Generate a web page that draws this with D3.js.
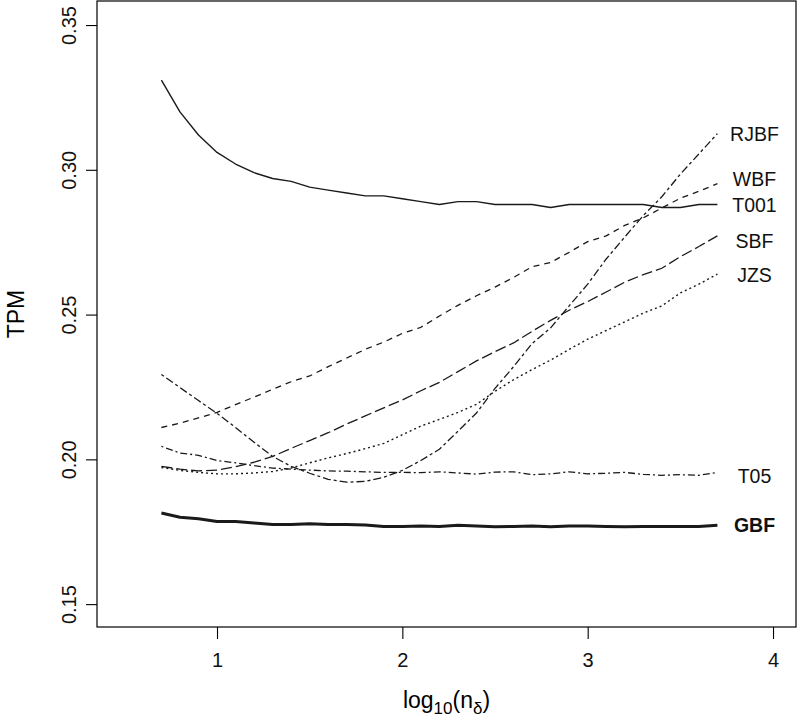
<!DOCTYPE html>
<html>
<head>
<meta charset="utf-8">
<script src="https://cdn.jsdelivr.net/npm/d3@7"></script>
<style>
  html, body { margin: 0; padding: 0; background: #fff; }
  svg { display: block; font-family: "Liberation Sans", Arial, sans-serif; }
</style>
</head>
<body>
<svg id="chart" width="800" height="722"></svg>
<script>
// ---- data ----
const xValues = [0.7,0.8,0.9,1.0,1.1,1.2,1.3,1.4,1.5,1.6,1.7,1.8,1.9,2.0,2.1,2.2,2.3,2.4,2.5,2.6,2.7,2.8,2.9,3.0,3.1,3.2,3.3,3.4,3.5,3.6,3.7];

const T001 = [0.331,0.320,0.312,0.306,0.302,0.299,0.297,0.296,0.294,0.293,0.292,0.291,0.291,0.290,0.289,0.288,0.289,0.289,0.288,0.288,0.288,0.287,0.288,0.288,0.288,0.288,0.288,0.287,0.287,0.288,0.288];
const GBF  = [0.1815,0.1800,0.1795,0.1785,0.1785,0.1780,0.1775,0.1775,0.1778,0.1775,0.1775,0.1773,0.1768,0.1768,0.1770,0.1768,0.1772,0.1770,0.1767,0.1768,0.1770,0.1767,0.1770,0.1770,0.1768,0.1767,0.1768,0.1768,0.1768,0.1768,0.1772];
const T05  = [0.2045,0.2022,0.2014,0.1996,0.1988,0.1978,0.1970,0.1966,0.1963,0.1960,0.1959,0.1957,0.1955,0.1955,0.1954,0.1957,0.1953,0.1949,0.1956,0.1957,0.1947,0.1950,0.1957,0.1950,0.1952,0.1955,0.1948,0.1945,0.1947,0.1945,0.1955];
const RJBF = [0.2293,0.2248,0.2203,0.2159,0.2110,0.2059,0.2010,0.1976,0.1952,0.1931,0.1921,0.1924,0.1938,0.1962,0.1996,0.2035,0.2097,0.2160,0.2245,0.2320,0.2400,0.2454,0.2530,0.2605,0.2692,0.2768,0.2842,0.2907,0.2985,0.3055,0.3125];
const WBF  = [0.2110,0.2125,0.2143,0.2162,0.2189,0.2215,0.2242,0.2268,0.2288,0.2320,0.2350,0.2380,0.2405,0.2435,0.2456,0.2495,0.2532,0.2565,0.2595,0.2628,0.2665,0.2680,0.2715,0.2752,0.2772,0.2808,0.2834,0.2868,0.2902,0.2926,0.2952];
const SBF  = [0.1976,0.1966,0.1960,0.1963,0.1975,0.1990,0.2010,0.2038,0.2065,0.2092,0.2122,0.2150,0.2178,0.2205,0.2237,0.2266,0.2303,0.2340,0.2372,0.2402,0.2442,0.2480,0.2515,0.2545,0.2578,0.2612,0.2638,0.2660,0.2700,0.2735,0.2772];
const JZS  = [0.1972,0.1962,0.1955,0.1950,0.1950,0.1953,0.1958,0.1970,0.1988,0.2005,0.2020,0.2037,0.2055,0.2085,0.2115,0.2138,0.2162,0.2190,0.2235,0.2275,0.2310,0.2343,0.2380,0.2415,0.2445,0.2475,0.2505,0.2530,0.2575,0.2605,0.2640];

const seriesNames = ["T001","GBF","T05","RJBF","WBF","SBF","JZS"];
const seriesValues = [T001, GBF, T05, RJBF, WBF, SBF, JZS];

const xTicks = [1, 2, 3, 4];
const yTicks = [0.15, 0.20, 0.25, 0.30, 0.35];
const yTickLabels = ["0.15", "0.20", "0.25", "0.30", "0.35"];
const xLabelX = 3.9;

// ---- styles ----
const styles = {
  T001: { dash: null,         width: 1.4, bold: false, dy: 0 },
  GBF:  { dash: null,         width: 3.0, bold: true,  dy: 0 },
  T05:  { dash: "2,3,7,3",    width: 1.3, bold: false, dy: 4 },
  RJBF: { dash: "3,3,8,3",    width: 1.3, bold: false, dy: 0 },
  WBF:  { dash: "6,5",        width: 1.3, bold: false, dy: -5 },
  SBF:  { dash: "11,4",       width: 1.3, bold: false, dy: 5 },
  JZS:  { dash: "2,3",        width: 1.4, bold: false, dy: 1 }
};

// ---- layout ----
const svg = d3.select("#chart");
const L = 97, R = 796, T = 1, B = 627;

const x = d3.scaleLinear().domain([0.3525, 4.124]).range([L, R]);
const y = d3.scaleLinear().domain([0.1421, 0.3583]).range([B, T]);

// box
svg.append("rect")
  .attr("x", L).attr("y", T)
  .attr("width", R - L).attr("height", B - T)
  .attr("fill", "none").attr("stroke", "#000").attr("stroke-width", 1.2);

// x axis
const xAxis = d3.axisBottom(x).tickValues(xTicks).tickFormat(d3.format("d")).tickSizeOuter(0).tickSize(12).tickPadding(14);
const gx = svg.append("g").attr("transform", `translate(0,${B})`).call(xAxis);
gx.select(".domain").remove();
gx.selectAll("line").attr("stroke", "#000").attr("stroke-width", 1.1);
gx.selectAll("text").attr("font-size", 20).attr("fill", "#111")
  .attr("font-family", "Liberation Sans, Arial, sans-serif");

// y axis
const yAxis = d3.axisLeft(y).tickValues(yTicks).tickFormat((d, i) => yTickLabels[i]).tickSizeOuter(0).tickSize(11);
const gy = svg.append("g").attr("transform", `translate(${L},0)`).call(yAxis);
gy.select(".domain").remove();
gy.selectAll("line").attr("stroke", "#000").attr("stroke-width", 1.1);
gy.selectAll("text")
  .attr("font-size", 20).attr("fill", "#111")
  .attr("font-family", "Liberation Sans, Arial, sans-serif")
  .attr("x", null).attr("dy", null)
  .attr("text-anchor", "middle")
  .attr("dominant-baseline", "central")
  .attr("transform", "translate(-28,0) rotate(-90)");

// axis titles
const xt = svg.append("text")
  .attr("x", (L + R) / 2).attr("y", 708)
  .attr("text-anchor", "middle").attr("font-size", 23).attr("fill", "#000");
xt.append("tspan").text("log");
xt.append("tspan").text("10").attr("font-size", 17).attr("dy", 6);
xt.append("tspan").text("(n").attr("dy", -6);
xt.append("tspan").text("δ").attr("font-size", 17).attr("dy", 6);
xt.append("tspan").text(")").attr("dy", -6);

svg.append("text")
  .attr("transform", `translate(24,${(T + B) / 2}) rotate(-90)`)
  .attr("text-anchor", "middle").attr("font-size", 23).attr("fill", "#000")
  .text("TPM");

// lines
const line = d3.line().x((d, i) => x(xValues[i])).y(d => y(d));
const g = svg.append("g");
seriesNames.forEach((name, k) => {
  const s = styles[name];
  g.append("path")
    .datum(seriesValues[k])
    .attr("d", line)
    .attr("fill", "none")
    .attr("stroke", "#1a1a1a")
    .attr("stroke-width", s.width)
    .attr("stroke-linejoin", "round")
    .attr("stroke-dasharray", s.dash);
  const vals = seriesValues[k];
  g.append("text")
    .attr("x", x(xLabelX))
    .attr("y", y(vals[vals.length - 1]) + s.dy)
    .attr("text-anchor", "middle")
    .attr("dominant-baseline", "central")
    .attr("font-size", 19.5)
    .attr("font-weight", s.bold ? "bold" : "normal")
    .attr("fill", "#111")
    .text(name);
});
</script>
</body>
</html>
